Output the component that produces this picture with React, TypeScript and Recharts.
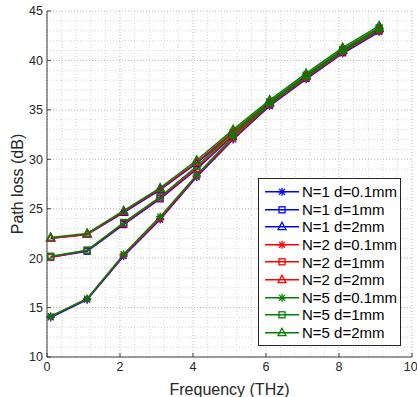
import React from "react";
import { LineChart, Line, XAxis, YAxis, CartesianGrid, Legend } from "recharts";

// frequency points (THz)
const freq = [0.1, 1.1, 2.1, 3.1, 4.1, 5.1, 6.1, 7.1, 8.1, 9.1];

// path loss (dB) per configuration
const n1d01 = [14.0, 15.8, 20.2, 23.9, 28.2, 32.0, 35.4, 38.1, 40.7, 42.9];
const n1d1 = [20.1, 20.7, 23.4, 26.0, 29.0, 32.4, 35.5, 38.2, 40.8, 43.0];
const n1d2 = [22.0, 22.4, 24.6, 26.9, 29.6, 32.7, 35.7, 38.4, 41.0, 43.2];
const n2d01 = [14.1, 15.9, 20.3, 24.0, 28.3, 32.1, 35.5, 38.2, 40.8, 43.0];
const n2d1 = [20.1, 20.8, 23.5, 26.1, 29.1, 32.5, 35.6, 38.3, 40.9, 43.1];
const n2d2 = [22.0, 22.4, 24.7, 27.0, 29.7, 32.8, 35.8, 38.5, 41.1, 43.3];
const n5d01 = [14.1, 15.9, 20.4, 24.2, 28.4, 32.3, 35.6, 38.3, 40.9, 43.1];
const n5d1 = [20.2, 20.8, 23.6, 26.2, 29.3, 32.7, 35.8, 38.5, 41.1, 43.3];
const n5d2 = [22.1, 22.5, 24.8, 27.1, 29.9, 33.0, 36.0, 38.7, 41.3, 43.5];

const seriesNames = [
  "N=1 d=0.1mm",
  "N=1 d=1mm",
  "N=1 d=2mm",
  "N=2 d=0.1mm",
  "N=2 d=1mm",
  "N=2 d=2mm",
  "N=5 d=0.1mm",
  "N=5 d=1mm",
  "N=5 d=2mm",
];
const seriesValues = [n1d01, n1d1, n1d2, n2d01, n2d1, n2d2, n5d01, n5d1, n5d2];

const xTicks = [0, 2, 4, 6, 8, 10];
const yTicks = [10, 15, 20, 25, 30, 35, 40, 45];
const xMinorTicks = [0.4, 0.8, 1.2, 1.6, 2.4, 2.8, 3.2, 3.6, 4.4, 4.8, 5.2, 5.6, 6.4, 6.8, 7.2, 7.6, 8.4, 8.8, 9.2, 9.6];
const yMinorTicks = [11, 12, 13, 14, 16, 17, 18, 19, 21, 22, 23, 24, 26, 27, 28, 29, 31, 32, 33, 34, 36, 37, 38, 39, 41, 42, 43, 44];

// styling per series (kept apart from the values)
const colors = ["#0000ff", "#0000ff", "#0000ff", "#ff0000", "#ff0000", "#ff0000", "#008000", "#008000", "#008000"];
const shapes = ["star", "square", "triangle", "star", "square", "triangle", "star", "square", "triangle"];

const data = freq.map((f, i) => {
  const row: Record<string, number> = { f };
  seriesValues.forEach((vals, k) => {
    row[`s${k}`] = vals[i];
  });
  return row;
});

const AXIS = "#404040";
const TEXT = "#262626";

function Marker({ cx, cy, shape, color }: { cx: number; cy: number; shape: string; color: string }) {
  if (shape === "star") {
    const r = 4;
    const d = 2.9;
    return (
      <g stroke={color} strokeWidth={1.3} fill="none">
        <line x1={cx - r} y1={cy} x2={cx + r} y2={cy} />
        <line x1={cx} y1={cy - r} x2={cx} y2={cy + r} />
        <line x1={cx - d} y1={cy - d} x2={cx + d} y2={cy + d} />
        <line x1={cx - d} y1={cy + d} x2={cx + d} y2={cy - d} />
      </g>
    );
  }
  if (shape === "square") {
    return <rect x={cx - 3} y={cy - 3} width={6} height={6} fill="none" stroke={color} strokeWidth={1.3} />;
  }
  return (
    <polygon
      points={`${cx},${cy - 4.5} ${cx - 4},${cy + 2.8} ${cx + 4},${cy + 2.8}`}
      fill="none"
      stroke={color}
      strokeWidth={1.3}
    />
  );
}

function scaleOf(axis: any) {
  const s: any = axis && axis.scale;
  if (typeof s === "function") return (v: number) => s(v);
  if (s && typeof s.map === "function") return (v: number) => s.map(v);
  return (v: number) => v;
}

function YLabel({ viewBox }: any) {
  const x = (viewBox?.x ?? 0) + 17;
  const y = (viewBox?.y ?? 0) + (viewBox?.height ?? 0) / 2;
  return (
    <text
      x={x}
      y={y}
      transform={`rotate(-90, ${x}, ${y})`}
      textAnchor="middle"
      dominantBaseline="central"
      fontSize={16}
      fill={TEXT}
    >
      Path loss (dB)
    </text>
  );
}

function LegendBox() {
  return (
    <div
      style={{
        border: "1px solid #262626",
        background: "#fff",
        padding: "4px 0",
        width: 141,
        fontFamily: "'Liberation Sans', Arial, sans-serif",
      }}
    >
      {seriesNames.map((name, k) => (
        <div key={name} style={{ display: "flex", alignItems: "center", height: 17.6 }}>
          <svg width={42} height={17.6} style={{ flex: "none" }}>
            <line x1={6} x2={40} y1={8.8} y2={8.8} stroke={colors[k]} strokeWidth={1.5} />
            <Marker cx={23} cy={8.8} shape={shapes[k]} color={colors[k]} />
          </svg>
          <span style={{ fontSize: 15, color: "#000", whiteSpace: "nowrap", marginLeft: 1 }}>{name}</span>
        </div>
      ))}
    </div>
  );
}

export default function App() {
  return (
    <div style={{ position: "absolute", left: 0, top: 0, background: "#fff" }}>
      <LineChart
        width={417}
        height={397}
        data={data}
        margin={{ top: 11, right: 5, bottom: 0, left: 0 }}
        style={{ fontFamily: "'Liberation Sans', Arial, sans-serif" }}
      >
        <CartesianGrid
          stroke="#d6d6d6"
          strokeDasharray="1 2"
          verticalCoordinatesGenerator={({ xAxis }: any) => xMinorTicks.map(scaleOf(xAxis))}
          horizontalCoordinatesGenerator={({ yAxis }: any) => yMinorTicks.map(scaleOf(yAxis))}
        />
        <CartesianGrid stroke="#b8b8b8" strokeDasharray="1 2" />
        <XAxis
          dataKey="f"
          type="number"
          domain={[0, 10]}
          ticks={xTicks}
          height={40}
          stroke={AXIS}
          tickSize={-4}
          tickMargin={9}
          tick={{ fontSize: 12.5, fill: TEXT }}
          label={{ value: "Frequency (THz)", position: "insideBottom", offset: 2, fontSize: 16, fill: TEXT }}
        />
        <XAxis
          xAxisId="top"
          orientation="top"
          type="number"
          domain={[0, 10]}
          ticks={xTicks}
          height={0}
          stroke={AXIS}
          tickSize={-4}
          tick={() => <g />}
        />
        <YAxis
          type="number"
          domain={[10, 45]}
          ticks={yTicks}
          width={47}
          stroke={AXIS}
          tickSize={-4}
          tickMargin={8}
          tick={{ fontSize: 12.5, fill: TEXT }}
          label={<YLabel />}
        />
        <YAxis
          yAxisId="right"
          orientation="right"
          type="number"
          domain={[10, 45]}
          ticks={yTicks}
          width={0}
          stroke={AXIS}
          tickSize={-4}
          tick={() => <g />}
        />
        <Legend
          layout="vertical"
          align="center"
          verticalAlign="middle"
          content={() => <LegendBox />}
          wrapperStyle={{ left: 258, top: 178, width: 143 }}
        />
        {seriesNames.map((name, k) => (
          <Line
            key={name}
            name={name}
            dataKey={`s${k}`}
            type="linear"
            stroke={colors[k]}
            strokeWidth={1.5}
            isAnimationActive={false}
            activeDot={false}
            dot={(p: any) => (
              <Marker key={`${name}-${p.index}`} cx={p.cx} cy={p.cy} shape={shapes[k]} color={colors[k]} />
            )}
          />
        ))}
      </LineChart>
    </div>
  );
}
